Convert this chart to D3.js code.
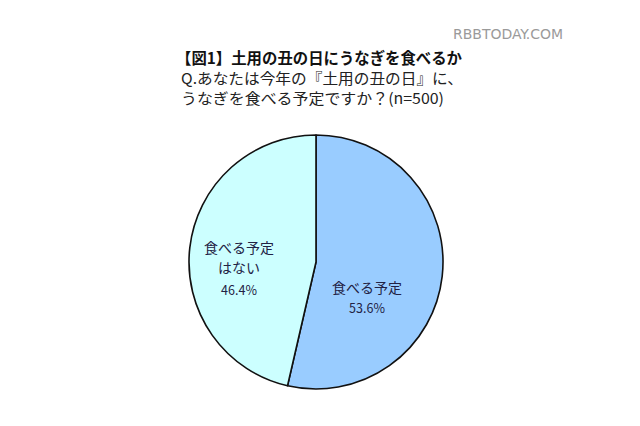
<!DOCTYPE html>
<html><head><meta charset="utf-8">
<script src="https://cdn.jsdelivr.net/npm/d3@7"></script>
<style>
html,body{margin:0;padding:0;background:#fff;}
svg{display:block;}
</style></head>
<body>
<svg id="chart" width="640" height="426"></svg>
<script>
const categories = ["食べる予定", "食べる予定\nはない"];
const values = [53.6, 46.4];
const valueLabels = ["53.6%", "46.4%"];
const titleLines = ["【図1】土用の丑の日にうなぎを食べるか", "Q.あなたは今年の『土用の丑の日』に、", "うなぎを食べる予定ですか？(n=500)"];
const watermark = "RBBTODAY.COM";
const colors = ["#99ccff", "#ccffff"];

const svg = d3.select("#chart");
const cx = 316, cy = 262, r = 127;
const font = "'Noto Sans CJK JP', 'Noto Sans', sans-serif";

// watermark
svg.append("text").attr("x", 453).attr("y", 38.5)
  .attr("font-family", "'DejaVu Sans Condensed','Liberation Sans Narrow',sans-serif")
  .attr("font-size", 14).attr("fill", "#9a9a9a")
  .attr("textLength", 110).attr("lengthAdjust", "spacingAndGlyphs")
  .text(watermark);

// titles
svg.append("text").attr("x", 176).attr("y", 59).attr("dy", "0.35em")
  .attr("font-family", font).attr("font-weight", "bold").attr("font-size", 15.5)
  .attr("fill", "#111")
  .attr("textLength", 286).attr("lengthAdjust", "spacingAndGlyphs")
  .text(titleLines[0]);
svg.append("text").attr("x", 181).attr("y", 78.5).attr("dy", "0.35em")
  .attr("font-family", font).attr("font-size", 15).attr("fill", "#222")
  .attr("textLength", 282).attr("lengthAdjust", "spacingAndGlyphs")
  .text(titleLines[1]);
svg.append("text").attr("x", 181).attr("y", 99).attr("dy", "0.35em")
  .attr("font-family", font).attr("font-size", 15).attr("fill", "#222")
  .attr("textLength", 263).attr("lengthAdjust", "spacingAndGlyphs")
  .text(titleLines[2]);

// pie
const pie = d3.pie().sort(null).value(d => d)(values);
const arc = d3.arc().innerRadius(0).outerRadius(r);
const g = svg.append("g").attr("transform", `translate(${cx},${cy})`);
g.selectAll("path").data(pie).join("path")
  .attr("d", arc)
  .attr("fill", (d, i) => colors[i])
  .attr("stroke", "#111")
  .attr("stroke-width", 1.6)
  .attr("stroke-linejoin", "round");

// labels (layout offsets from centre)
const labelPos = [[51, 26], [-77, -14]];
const lineGap = 20.5;
pie.forEach((d, i) => {
  const lines = categories[i].split("\n").concat([valueLabels[i]]);
  const t = g.append("text")
    .attr("font-family", font).attr("font-size", 14).attr("fill", "#222244")
    .attr("text-anchor", "middle");
  lines.forEach((ln, j) => {
    t.append("tspan").attr("x", labelPos[i][0])
      .attr("y", labelPos[i][1] + j * (j === lines.length - 1 && lines.length === 3 ? 21.5 : lineGap))
      .attr("dy", "0.35em")
      .attr("font-size", ln.includes("%") ? 12.5 : 14)
      .text(ln);
  });
});
</script>
</body></html>
